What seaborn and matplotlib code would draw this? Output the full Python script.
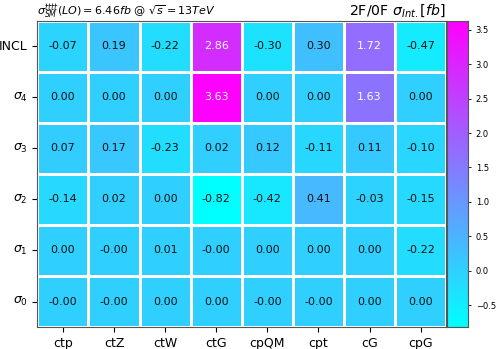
import numpy as np
import pandas as pd
import matplotlib
matplotlib.use('Agg')
import matplotlib.pyplot as plt
import seaborn as sns

# operators and cross-section pieces
operators = ['ctp', 'ctZ', 'ctW', 'ctG', 'cpQM', 'cpt', 'cG', 'cpG']
rows = ['INCL', r'$\sigma_4$', r'$\sigma_3$', r'$\sigma_2$', r'$\sigma_1$', r'$\sigma_0$']

incl = [-0.07, 0.19, -0.22, 2.86, -0.30, 0.30, 1.72, -0.47]
sig4 = [0.00, 0.00, 0.00, 3.63, 0.00, 0.00, 1.63, 0.00]
sig3 = [0.07, 0.17, -0.23, 0.02, 0.12, -0.11, 0.11, -0.10]
sig2 = [-0.14, 0.02, 0.00, -0.82, -0.42, 0.41, -0.03, -0.15]
sig1 = [0.001, -0.001, 0.01, -0.001, 0.001, 0.001, 0.001, -0.22]
sig0 = [-0.001, -0.001, 0.001, 0.001, -0.001, -0.001, 0.001, 0.001]

df = pd.DataFrame([incl, sig4, sig3, sig2, sig1, sig0], index=rows, columns=operators)

fig = plt.figure(figsize=(4.98, 3.49), dpi=100)
ax = fig.add_axes([0.075, 0.063, 0.821, 0.877])
cax = fig.add_axes([0.898, 0.063, 0.042, 0.877])

sns.heatmap(df, ax=ax, cbar_ax=cax, cmap='cool', annot=True, fmt='.2f',
            annot_kws={'size': 8}, linewidths=2, linecolor='white')

# darker text like the original
for t in ax.texts:
    if t.get_color() != 'w':
        t.set_color('#111111')

for s in ax.spines.values():
    s.set_visible(True)
    s.set_color('#555555')
    s.set_linewidth(0.8)
for s in cax.spines.values():
    s.set_visible(True)
    s.set_color('#555555')
cax.tick_params(labelsize=6, length=2, width=0.6)
cax.set_yticks([-0.5, 0.0, 0.5, 1.0, 1.5, 2.0, 2.5, 3.0, 3.5])

ax.tick_params(axis='x', labelsize=9, rotation=0)
ax.tick_params(axis='y', labelsize=9, rotation=0)

ax.set_title(r'$\sigma_{SM}^{tttt}(LO) = 6.46fb$ @ $\sqrt{s} = 13TeV$', loc='left', fontsize=8, pad=2)
ax.set_title(r'2F/0F $\sigma_{Int.}[fb]$', loc='right', fontsize=10.2, pad=2)

fig.savefig('out.png', dpi=100)
